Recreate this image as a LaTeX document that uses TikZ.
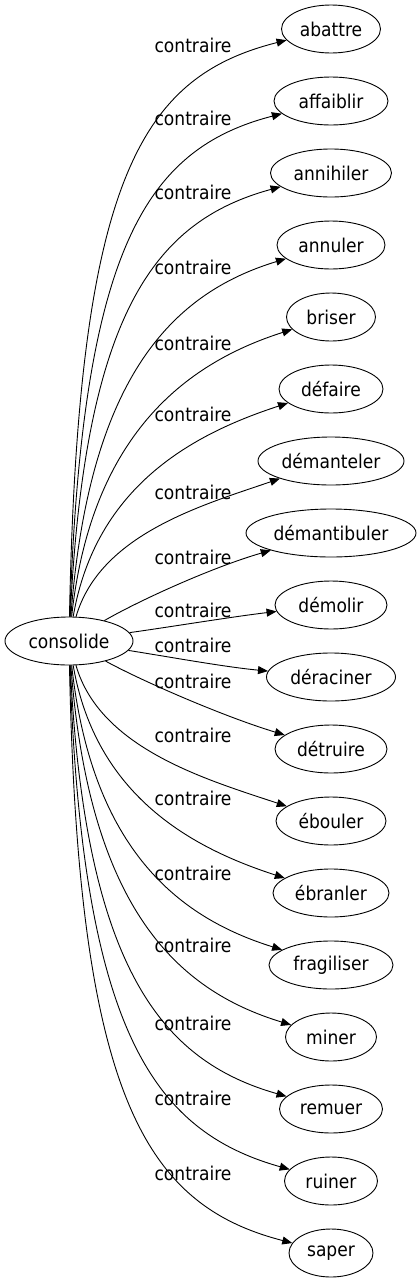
\documentclass[tikz,border=0pt]{standalone}
\usepackage{fontspec}
\setmainfont{DejaVu Sans}[FakeStretch=0.9]
\usetikzlibrary{positioning, arrows.meta, shapes.geometric}

\begin{document}
\begin{tikzpicture}[
    x=1pt, y=-1pt, % one unit per pixel, downwards
    node distance=23.1pt, % gap between the ellipses on the right
    every node/.style={font=\fontsize{19}{22}\selectfont},
    word/.style={draw, ellipse, line width=0.9pt, minimum height=48pt, inner sep=0pt},
    rel/.style={-{Triangle[length=10pt, width=8pt]}, line width=0.9pt},
    lbl/.style={inner sep=0pt}
]
    \useasboundingbox (0,0) rectangle (420,1283);

    % Place the nodes
    \node [word, minimum width=128pt] (consolide) at (69,641) {consolide};
    \node [word, minimum width=99pt] (abattre) at (331,29) {abattre};
    \node [word, minimum width=114pt] (affaiblir) [below=of abattre] {affaiblir};
    \node [word, minimum width=121pt] (annihiler) [below=of affaiblir] {annihiler};
    \node [word, minimum width=108pt] (annuler) [below=of annihiler] {annuler};
    \node [word, minimum width=89pt] (briser) [below=of annuler] {briser};
    \node [word, minimum width=104pt] (defaire) [below=of briser] {défaire};
    \node [word, minimum width=146pt] (demanteler) [below=of defaire] {démanteler};
    \node [word, minimum width=170pt] (demantibuler) [below=of demanteler] {démantibuler};
    \node [word, minimum width=112pt] (demolir) [below=of demantibuler] {démolir};
    \node [word, minimum width=129pt] (deraciner) [below=of demolir] {déraciner};
    \node [word, minimum width=112pt] (detruire) [below=of deraciner] {détruire};
    \node [word, minimum width=110pt] (ebouler) [below=of detruire] {ébouler};
    \node [word, minimum width=116pt] (ebranler) [below=of ebouler] {ébranler};
    \node [word, minimum width=124pt] (fragiliser) [below=of ebranler] {fragiliser};
    \node [word, minimum width=91pt] (miner) [below=of fragiliser] {miner};
    \node [word, minimum width=103pt] (remuer) [below=of miner] {remuer};
    \node [word, minimum width=93pt] (ruiner) [below=of remuer] {ruiner};
    \node [word, minimum width=84pt] (saper) [below=of ruiner] {saper};

    % Draw the edges
    \draw [rel] (consolide) .. controls (78,180) and (140,77) .. (abattre);
    \draw [rel] (consolide) .. controls (82,250) and (145,149) .. (affaiblir);
    \draw [rel] (consolide) .. controls (85,312) and (155,221) .. (annihiler);
    \draw [rel] (consolide) .. controls (89,376) and (173,293) .. (annuler);
    \draw [rel] (consolide) .. controls (92,428) and (193,361) .. (briser);
    \draw [rel] (consolide) .. controls (96,484) and (196,433) .. (defaire);
    \draw [rel] (consolide) .. controls (100,534) and (203,505) .. (demanteler);
    \draw [rel] (consolide) .. controls (140,600) and (213,567) .. (demantibuler);
    \draw [rel] (consolide) .. controls (170,627) and (230,617) .. (demolir);
    \draw [rel] (consolide) .. controls (170,657) and (225,667) .. (deraciner);
    \draw [rel] (consolide) .. controls (140,680) and (222,716) .. (detruire);
    \draw [rel] (consolide) .. controls (100,749) and (208,780) .. (ebouler);
    \draw [rel] (consolide) .. controls (96,798) and (195,849) .. (ebranler);
    \draw [rel] (consolide) .. controls (92,851) and (180,918) .. (fragiliser);
    \draw [rel] (consolide) .. controls (89,907) and (176,990) .. (miner);
    \draw [rel] (consolide) .. controls (85,969) and (162,1061) .. (remuer);
    \draw [rel] (consolide) .. controls (82,1030) and (153,1131) .. (ruiner);
    \draw [rel] (consolide) .. controls (78,1097) and (145,1205) .. (saper);

    % the edge labels
    \node [lbl] (c_abattre) at (193,45) {contraire};
    \node [lbl] (c_affaiblir) at (193,118) {contraire};
    \node [lbl] (c_annihiler) at (193,192) {contraire};
    \node [lbl] (c_annuler) at (193,267) {contraire};
    \node [lbl] (c_briser) at (193,343) {contraire};
    \node [lbl] (c_defaire) at (193,414) {contraire};
    \node [lbl] (c_demanteler) at (193,492) {contraire};
    \node [lbl] (c_demantibuler) at (193,557) {contraire};
    \node [lbl] (c_demolir) at (193,610) {contraire};
    \node [lbl] (c_deraciner) at (193,645) {contraire};
    \node [lbl] (c_detruire) at (193,681) {contraire};
    \node [lbl] (c_ebouler) at (193,735) {contraire};
    \node [lbl] (c_ebranler) at (193,798) {contraire};
    \node [lbl] (c_fragiliser) at (193,873) {contraire};
    \node [lbl] (c_miner) at (193,945) {contraire};
    \node [lbl] (c_remuer) at (193,1023) {contraire};
    \node [lbl] (c_ruiner) at (193,1098) {contraire};
    \node [lbl] (c_saper) at (193,1173) {contraire};
\end{tikzpicture}
\end{document}
